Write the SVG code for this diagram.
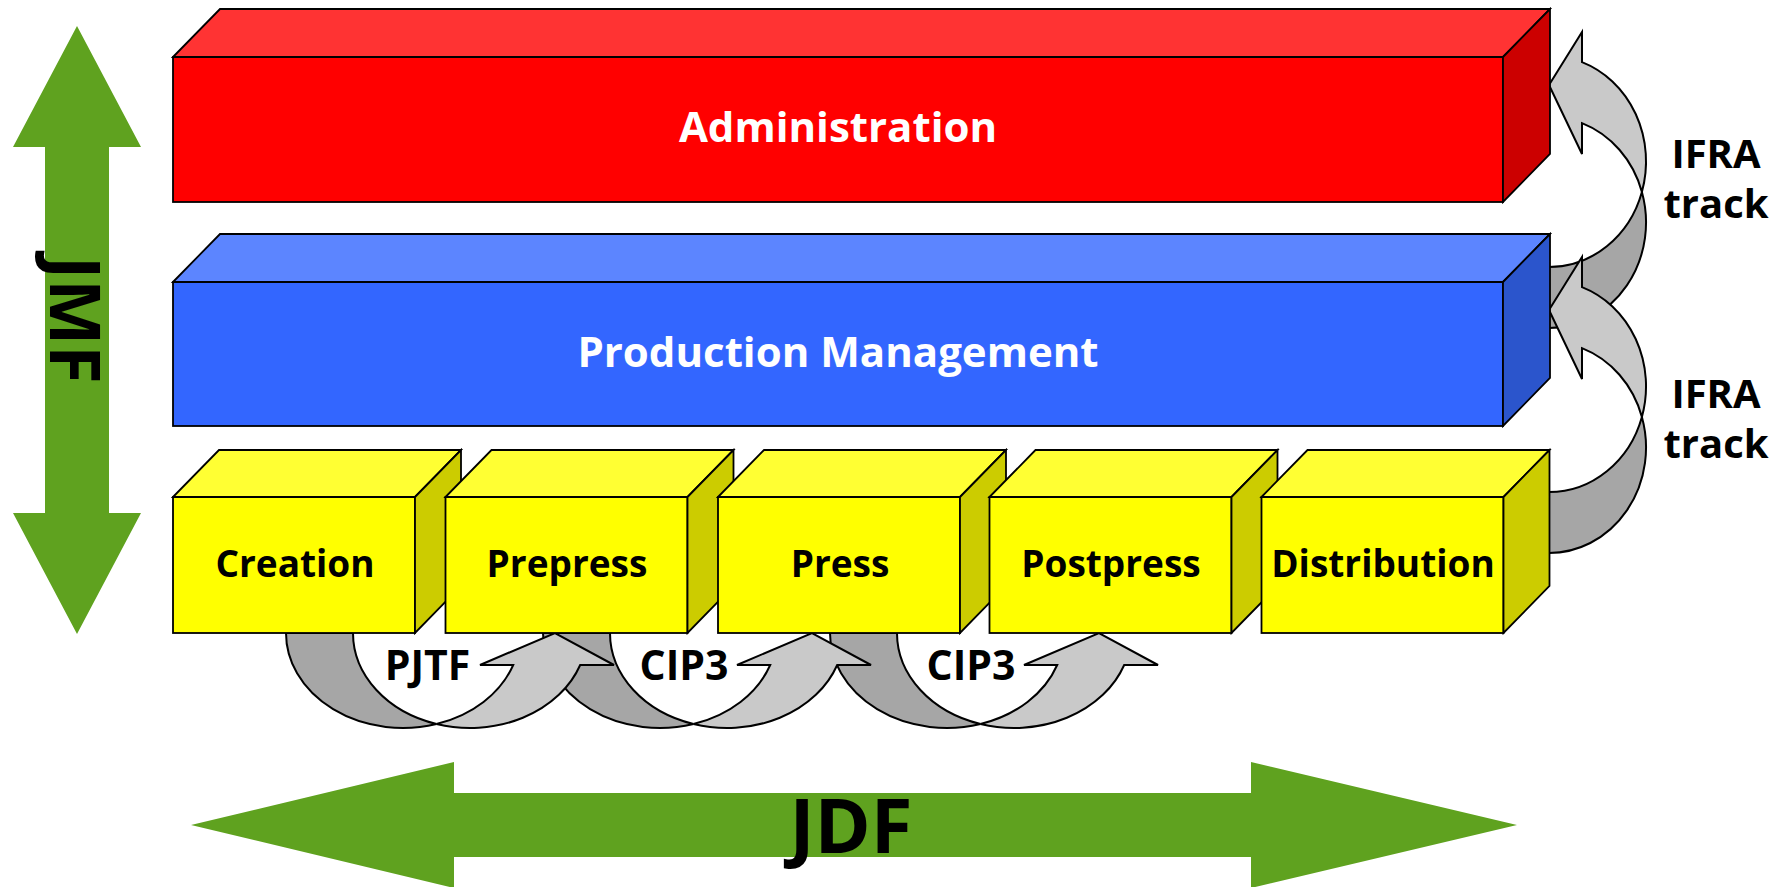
<svg xmlns="http://www.w3.org/2000/svg" width="1779" height="887" viewBox="0 0 1779 887">
<defs>
<style>
.lbl{font-family:"Open Sans","DejaVu Sans",sans-serif;font-weight:700;text-anchor:middle}
.bx{stroke:#000;stroke-width:1.8;stroke-linejoin:miter}
.dk{fill:#a6a6a6;stroke:#000;stroke-width:2;stroke-linejoin:miter}
.lt{fill:#c9c9c9;stroke:#000;stroke-width:2;stroke-linejoin:miter}
.green{fill:#5fa21f}
</style>
<g id="uarrow">
<path class="dk" d="M286,633 A117 95 0 0 0 436.5,724 A117 95 0 0 1 353,633 Z"/>
<path class="lt" d="M436.5,724 A117 95 0 0 0 580.2,665 L614,665 L555,633 L480,665 L513.2,665 A117 95 0 0 1 436.5,724 Z"/>
</g>
<g id="larrow">
<path class="dk" d="M1549,267 A97 105.6 0 0 0 1641.9,191.9 A97 105.6 0 0 1 1549,328 Z"/>
<path class="lt" d="M1641.9,191.9 A97 105.6 0 0 0 1582,123.1 L1582,154 L1549,85 L1582,32 L1582,62.1 A97 105.6 0 0 1 1641.9,191.9 Z"/>
</g>
</defs>
<rect width="1779" height="887" fill="#fff"/>

<g id="jmf-arrow">
<polygon class="green" points="77,26 141,147 109,147 109,513 141,513 77,634 13,513 45,513 45,147 13,147"/>
<text font-family="Open Sans, DejaVu Sans, sans-serif" font-weight="700" font-size="70" text-anchor="start" transform="translate(50,256) rotate(90)">JMF</text>
</g>
<g id="jdf-arrow">
<polygon class="green" points="191,825 454,762 454,793 1251,793 1251,762 1517,825 1251,888 1251,857 454,857 454,888"/>
<text class="lbl" font-size="76" x="851" y="853">JDF</text>
</g>

<g id="connectors">
<use href="#uarrow" transform="translate(544,0)"/>
<use href="#uarrow" transform="translate(257,0)"/>
<use href="#uarrow"/>
<use href="#larrow"/>
<use href="#larrow" transform="translate(0,225)"/>
</g>

<g id="administration">
<rect class="bx" x="173" y="57" width="1330" height="145" fill="#ff0000"/>
<polygon class="bx" points="173,57 220,9 1550,9 1503,57" fill="#ff3333"/>
<polygon class="bx" points="1503,57 1550,9 1550,154 1503,202" fill="#cc0000"/>
<text class="lbl" font-size="42" x="838" y="142" fill="#fff">Administration</text>
</g>
<g id="production-management">
<rect class="bx" x="173" y="282" width="1330" height="144" fill="#3366ff"/>
<polygon class="bx" points="173,282 220,234 1550,234 1503,282" fill="#5c85ff"/>
<polygon class="bx" points="1503,282 1550,234 1550,378 1503,426" fill="#2b55cc"/>
<text class="lbl" font-size="42" x="838" y="367" fill="#fff">Production  Management</text>
</g>

<g id="creation">
<rect class="bx" x="173" y="497" width="242" height="136" fill="#ffff00"/>
<polygon class="bx" points="173,497 219,450 461,450 415,497" fill="#ffff33"/>
<polygon class="bx" points="415,497 461,450 461,586 415,633" fill="#cccc00"/>
<text class="lbl" font-size="37" x="295" y="577">Creation</text>
</g>
<g id="prepress">
<rect class="bx" x="445.5" y="497" width="242" height="136" fill="#ffff00"/>
<polygon class="bx" points="445.5,497 491.5,450 733.5,450 687.5,497" fill="#ffff33"/>
<polygon class="bx" points="687.5,497 733.5,450 733.5,586 687.5,633" fill="#cccc00"/>
<text class="lbl" font-size="37" x="567" y="577">Prepress</text>
</g>
<g id="press">
<rect class="bx" x="718" y="497" width="242" height="136" fill="#ffff00"/>
<polygon class="bx" points="718,497 764,450 1006,450 960,497" fill="#ffff33"/>
<polygon class="bx" points="960,497 1006,450 1006,586 960,633" fill="#cccc00"/>
<text class="lbl" font-size="37" x="840" y="577">Press</text>
</g>
<g id="postpress">
<rect class="bx" x="989.5" y="497" width="242" height="136" fill="#ffff00"/>
<polygon class="bx" points="989.5,497 1035.5,450 1277.5,450 1231.5,497" fill="#ffff33"/>
<polygon class="bx" points="1231.5,497 1277.5,450 1277.5,586 1231.5,633" fill="#cccc00"/>
<text class="lbl" font-size="37" x="1111" y="577">Postpress</text>
</g>
<g id="distribution">
<rect class="bx" x="1261.5" y="497" width="242" height="136" fill="#ffff00"/>
<polygon class="bx" points="1261.5,497 1307.5,450 1549.5,450 1503.5,497" fill="#ffff33"/>
<polygon class="bx" points="1503.5,497 1549.5,450 1549.5,586 1503.5,633" fill="#cccc00"/>
<text class="lbl" font-size="37" x="1383" y="577">Distribution</text>
</g>

<g id="labels">
<text class="lbl" font-size="40" x="1716" y="168">IFRA</text>
<text class="lbl" font-size="40" x="1716" y="218">track</text>
<text class="lbl" font-size="40" x="1716" y="408">IFRA</text>
<text class="lbl" font-size="40" x="1716" y="458">track</text>
<text class="lbl" font-size="41" x="427.5" y="680">PJTF</text>
<text class="lbl" font-size="41" x="684" y="680">CIP3</text>
<text class="lbl" font-size="41" x="971" y="680">CIP3</text>
</g>
</svg>
